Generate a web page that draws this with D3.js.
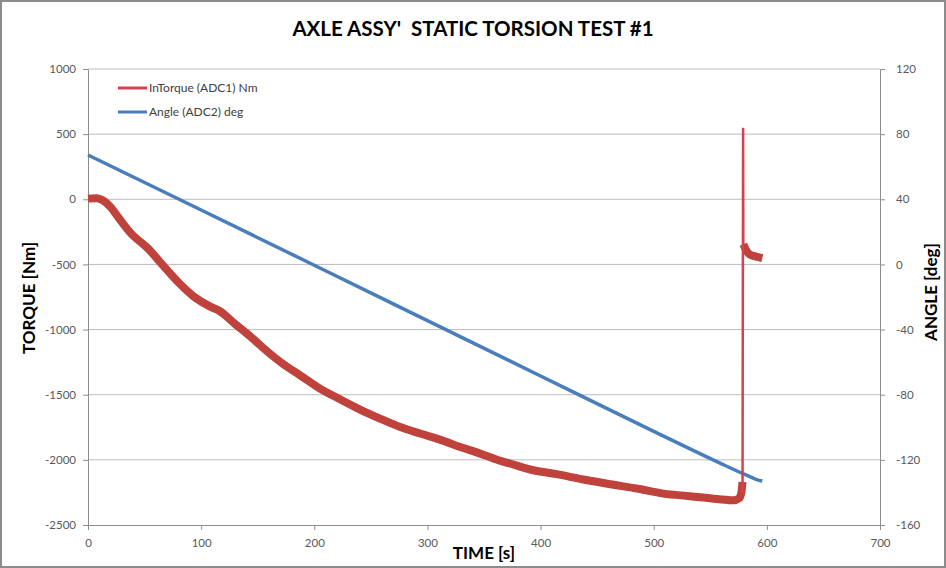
<!DOCTYPE html>
<html>
<head>
<meta charset="utf-8">
<script src="https://cdn.jsdelivr.net/npm/d3@7"></script>
<style>
  body { margin: 0; background: #fff; }
  svg { display: block; }
  .tick text { font-family: Lato, "Open Sans", sans-serif; font-size: 11.5px; fill: #595959; }
</style>
</head>
<body>
<svg id="chart" width="946" height="568"></svg>
<script>
// Torque (primary axis) - main curve, [time s, torque Nm]
const torqueTime = [0, 8, 13, 20, 26.5, 38, 53, 64.5, 79.6, 94, 108.5, 116, 129.6, 144, 159, 174,
  187.5, 205, 222.8, 240.5, 258, 276, 293.5, 311, 329, 346.6, 362.8, 373, 390.8, 414.3, 437.9,
  461.5, 485, 508.7, 532.3, 555.9, 570.6, 575.5, 577.5, 578.5];
const torqueValue = [5, 8, -8, -60, -135, -262, -377, -490, -635, -750, -826, -855, -954, -1057, -1172, -1274,
  -1351, -1453, -1535, -1614, -1683, -1748, -1798, -1845, -1901, -1952, -2003, -2028, -2074, -2110, -2151,
  -2187, -2220, -2259, -2279, -2300, -2310, -2295, -2250, -2170];

// Torque spike at break
const spikeTime = [578.5, 579, 579.2];
const spikeValue = [-2250, 550, -345];

// Torque after break
const tailTime = [579.2, 582.2, 585.1, 591, 596];
const tailValue = [-345, -398, -425, -441, -452];

// Angle (secondary axis)
const angleTime = [0, 100, 200, 300, 400, 500, 558.6, 579, 585, 591, 596];
const angleValue = [67.2, 33.4, -0.5, -34.5, -68.5, -102.5, -122, -128.5, -130.3, -132.1, -133];

const xTicks = [0, 100, 200, 300, 400, 500, 600, 700];
const torqueTicks = [1000, 500, 0, -500, -1000, -1500, -2000, -2500];
const angleTicks = [120, 80, 40, 0, -40, -80, -120, -160];

const legendItems = ['InTorque (ADC1) Nm', 'Angle (ADC2) deg'];

const red = '#c0423c';
const spikeRed = '#d6404f';
const blue = '#4a7ebb';
const font = 'Lato, "Open Sans", sans-serif';

const svg = d3.select('#chart');
const margin = { left: 88, right: 880, top: 69, bottom: 525 };

const xScale = d3.scaleLinear([0, 700], [margin.left, margin.right]);
const yScale = d3.scaleLinear([-2500, 1000], [margin.bottom, margin.top]);
const y2Scale = d3.scaleLinear([-160, 120], [margin.bottom, margin.top]);

// Outer frame
svg.append('rect')
  .attr('x', 1).attr('y', 1)
  .attr('width', 944).attr('height', 566)
  .attr('fill', '#fff')
  .attr('stroke', '#8c8c8c')
  .attr('stroke-width', 2);

// Gridlines
svg.append('g')
  .selectAll('line')
  .data(torqueTicks.filter(d => d !== -2500))
  .join('line')
  .attr('x1', margin.left).attr('x2', margin.right)
  .attr('y1', d => yScale(d)).attr('y2', d => yScale(d))
  .attr('stroke', '#bdbdbd')
  .attr('stroke-width', 1);

// Axes
const styleAxis = g => {
  g.select('.domain').attr('stroke', '#8e8e8e');
  g.selectAll('.tick line').attr('stroke', '#8e8e8e');
};

svg.append('g')
  .attr('transform', `translate(${margin.left},0)`)
  .call(d3.axisLeft(yScale).tickValues(torqueTicks).tickFormat(d => String(d))
    .tickSizeInner(5).tickSizeOuter(0).tickPadding(7))
  .call(styleAxis);

svg.append('g')
  .attr('transform', `translate(${margin.right},0)`)
  .call(d3.axisRight(y2Scale).tickValues(angleTicks).tickFormat(d => String(d))
    .tickSizeInner(5).tickSizeOuter(0).tickPadding(11))
  .call(styleAxis);

svg.append('g')
  .attr('transform', `translate(0,${margin.bottom})`)
  .call(d3.axisBottom(xScale).tickValues(xTicks).tickFormat(d => String(d))
    .tickSizeInner(5).tickSizeOuter(0).tickPadding(9))
  .call(styleAxis);

// Lines
const torqueLine = d3.line()
  .x(d => xScale(d[0]))
  .y(d => yScale(d[1]))
  .curve(d3.curveMonotoneX);

const angleLine = d3.line()
  .x(d => xScale(d[0]))
  .y(d => y2Scale(d[1]))
  .curve(d3.curveMonotoneX);

svg.append('path')
  .datum(d3.zip(angleTime, angleValue))
  .attr('d', angleLine)
  .attr('fill', 'none')
  .attr('stroke', blue)
  .attr('stroke-width', 3.5)
  .attr('stroke-linejoin', 'round');

svg.append('path')
  .datum(d3.zip(torqueTime, torqueValue))
  .attr('d', torqueLine)
  .attr('fill', 'none')
  .attr('stroke', red)
  .attr('stroke-width', 8)
  .attr('stroke-linejoin', 'round');

svg.append('path')
  .datum(d3.zip(tailTime, tailValue))
  .attr('d', torqueLine)
  .attr('fill', 'none')
  .attr('stroke', red)
  .attr('stroke-width', 8)
  .attr('stroke-linejoin', 'round');

svg.append('path')
  .datum(d3.zip(spikeTime, spikeValue))
  .attr('d', d3.line().x(d => xScale(d[0])).y(d => yScale(d[1])))
  .attr('fill', 'none')
  .attr('stroke', spikeRed)
  .attr('stroke-width', 2.5);

// Legend
const legend = svg.append('g')
  .selectAll('g')
  .data(legendItems)
  .join('g')
  .attr('transform', (d, i) => `translate(118,${88 + i * 24})`);

legend.append('line')
  .attr('x1', 0).attr('x2', 29)
  .attr('stroke', (d, i) => i === 0 ? spikeRed : blue)
  .attr('stroke-width', 3);

legend.append('text')
  .attr('x', 31)
  .attr('dy', '0.35em')
  .attr('font-family', font)
  .attr('font-size', 12)
  .attr('fill', '#404040')
  .text(d => d);

// Titles
svg.append('text')
  .attr('x', 473).attr('y', 36)
  .attr('text-anchor', 'middle')
  .attr('font-family', font)
  .attr('font-weight', 'bold')
  .attr('font-size', 20.5)
  .style('white-space', 'pre')
  .text('AXLE ASSY\'  STATIC TORSION TEST #1');

svg.append('text')
  .attr('x', 484).attr('y', 559)
  .attr('text-anchor', 'middle')
  .attr('font-family', font)
  .attr('font-weight', 'bold')
  .attr('font-size', 17)
  .text('TIME [s]');

svg.append('text')
  .attr('transform', 'translate(35,298) rotate(-90)')
  .attr('text-anchor', 'middle')
  .attr('font-family', font)
  .attr('font-weight', 'bold')
  .attr('font-size', 17)
  .text('TORQUE [Nm]');

svg.append('text')
  .attr('transform', 'translate(937,292) rotate(-90)')
  .attr('text-anchor', 'middle')
  .attr('font-family', font)
  .attr('font-weight', 'bold')
  .attr('font-size', 17)
  .text('ANGLE [deg]');
</script>
</body>
</html>
